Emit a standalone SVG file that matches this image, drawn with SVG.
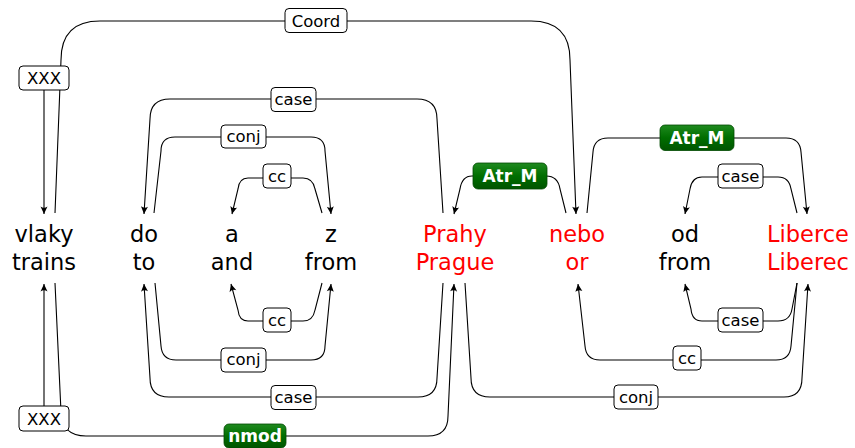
<svg xmlns="http://www.w3.org/2000/svg" width="855" height="448" viewBox="0 0 855 448">
<style>
.w{font-family:"DejaVu Sans",sans-serif;font-size:22.5px;text-anchor:middle;fill:#000}
.r{fill:#ff0000}
.e{fill:none;stroke:#000;stroke-width:1.1}
.a{marker-end:url(#ar)}
.lb{fill:#fff;stroke:#000;stroke-width:1}
.lt{font-family:"DejaVu Sans",sans-serif;font-size:16.5px;text-anchor:middle;fill:#000}
.gb{fill:url(#gr);stroke:#004a00;stroke-width:0.8}
.gt{font-family:"DejaVu Sans",sans-serif;font-size:17px;font-weight:bold;text-anchor:middle;fill:#fff}
</style>
<defs>
<marker id="ar" viewBox="-8 -4 9 8" refX="0" refY="0" markerWidth="9" markerHeight="8" markerUnits="userSpaceOnUse" orient="auto">
<path d="M0,0 L-7.5,-3.5 Q-5,0 -7.5,3.5 Z" fill="#000"/>
</marker>
<linearGradient id="gr" x1="0" y1="0" x2="0" y2="1">
<stop offset="0" stop-color="#1f8a1f"/>
<stop offset="0.5" stop-color="#006e00"/>
<stop offset="1" stop-color="#005400"/>
</linearGradient>
</defs>
<rect width="855" height="448" fill="#fff"/>
<g id="connectors">
<path class="e a" d="M55,213 L61,60 Q61,21 100,21 H531 Q570,21 570,60 L576,214"/>
<path class="e a" d="M44,90 L44,214"/>
<path class="e a" d="M443,213 L437,119 Q437,99 417,99 H170 Q150,99 150,119 L144,214"/>
<path class="e a" d="M154,213 L161,151 Q161,137 175,137 H311 Q325,137 325,151 L331,214"/>
<path class="e a" d="M322,213 L315,189 Q313,178 303,178 H248 Q239,178 238,189 L232,214"/>
<path class="e a" d="M566,213 L560,189 Q558,176 546,176 H472 Q462,176 460,189 L454,214"/>
<path class="e a" d="M587,213 L593,152 Q594,138 608,138 H786 Q800,138 801,152 L807,214"/>
<path class="e a" d="M797,213 L791,189 Q789,177 778,177 H702 Q692,177 690,189 L685,214"/>
<path class="e a" d="M44,406 L44,284"/>
<path class="e a" d="M55,283 L61,412 Q62,436 86,436 H428 Q448,436 448,416 L454,284"/>
<path class="e a" d="M443,283 L437,378 Q437,397 418,397 H169 Q150,397 150,378 L144,284"/>
<path class="e a" d="M155,283 L161,346 Q162,360 176,360 H311 Q325,360 325,346 L331,284"/>
<path class="e a" d="M322,283 L315,310 Q313,321 303,321 H248 Q239,321 238,310 L231,284"/>
<path class="e a" d="M465,283 L471,378 Q471,397 490,397 H784 Q802,397 802,378 L808,284"/>
<path class="e a" d="M797,283 L791,346 Q790,360 776,360 H600 Q586,360 585,346 L578,284"/>
<path class="e a" d="M797,283 L792,309 Q790,321 778,321 H702 Q692,321 691,309 L685,284"/>
<g id="edge-labels">
<rect class="lb" x="285" y="8.5" width="62" height="24" rx="4"/><text class="lt" x="316" y="26.5">Coord</text>
<rect class="lb" x="19" y="66" width="50" height="24" rx="4"/><text class="lt" x="44" y="84">XXX</text>
<rect class="lb" x="271" y="87.5" width="45" height="24" rx="4"/><text class="lt" x="293.5" y="105">case</text>
<rect class="lb" x="221" y="125" width="45" height="23" rx="4"/><text class="lt" x="243.5" y="142">conj</text>
<rect class="lb" x="263" y="164" width="28" height="24" rx="4"/><text class="lt" x="277" y="181.5">cc</text>
<rect class="gb" x="473" y="163" width="74" height="26" rx="5"/><text class="gt" x="510" y="182">Atr_M</text>
<rect class="gb" x="660" y="125" width="74" height="25.5" rx="5"/><text class="gt" x="697" y="143.5">Atr_M</text>
<rect class="lb" x="718" y="164" width="45" height="24" rx="4"/><text class="lt" x="740.5" y="181.5">case</text>
<rect class="lb" x="19" y="406" width="50" height="25" rx="4"/><text class="lt" x="44" y="424.5">XXX</text>
<rect class="lb" x="263" y="308" width="28" height="24" rx="4"/><text class="lt" x="277" y="325.5">cc</text>
<rect class="lb" x="221" y="348" width="45" height="24" rx="4"/><text class="lt" x="243.5" y="365">conj</text>
<rect class="lb" x="271" y="385.5" width="45" height="24" rx="4"/><text class="lt" x="293.5" y="403">case</text>
<rect class="gb" x="224" y="424" width="62" height="24" rx="5"/><text class="gt" x="255" y="441.5">nmod</text>
<rect class="lb" x="718" y="308" width="45" height="24" rx="4"/><text class="lt" x="740.5" y="325.5">case</text>
<rect class="lb" x="673" y="346" width="28" height="24" rx="4"/><text class="lt" x="687" y="363.5">cc</text>
<rect class="lb" x="614" y="385" width="44" height="24" rx="4"/><text class="lt" x="636" y="402.5">conj</text>
</g>
</g>
<g id="n-vlaky"><text class="w" x="44" y="242">vlaky</text><text class="w" x="44" y="270">trains</text></g>
<g id="n-do"><text class="w" x="144" y="242">do</text><text class="w" x="144" y="270">to</text></g>
<g id="n-a"><text class="w" x="232" y="242">a</text><text class="w" x="232" y="270">and</text></g>
<g id="n-z"><text class="w" x="331" y="242">z</text><text class="w" x="331" y="270">from</text></g>
<g id="n-prahy"><text class="w r" x="455" y="242">Prahy</text><text class="w r" x="455" y="270">Prague</text></g>
<g id="n-nebo"><text class="w r" x="577" y="242">nebo</text><text class="w r" x="577" y="270">or</text></g>
<g id="n-od"><text class="w" x="685" y="242">od</text><text class="w" x="685" y="270">from</text></g>
<g id="n-liberce"><text class="w r" x="808" y="242">Liberce</text><text class="w r" x="808" y="270">Liberec</text></g>
</svg>
